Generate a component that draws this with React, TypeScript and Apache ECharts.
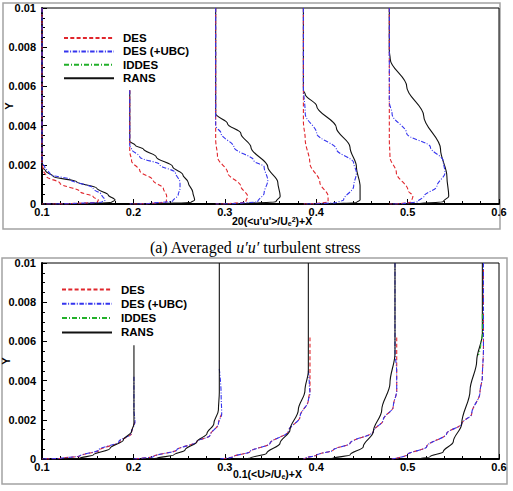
import React, { useEffect, useRef } from "react";
import * as echarts from "echarts";

// Model names, in legend order
const MODELS = ["DES", "DES (+UBC)", "IDDES", "RANS"];

// Streamwise stations X of the five profiles
const STATIONS_X = [0.1, 0.196, 0.29, 0.386, 0.48];

// Axis ticks
const X_MIN = 0.1;
const X_MAX = 0.6;
const X_STEP = 0.1;
const Y_MIN = 0;
const Y_MAX = 0.01;
const Y_STEP = 0.002;

// Panel (a): 20<u'u'>/Ue^2 profiles, [value, Y] per station
const RANS_UU: number[][][] = [
  [[0, 0.01], [0, 0.0019], [0.004, 0.00168], [0.0124, 0.0014], [0.038, 0.00114], [0.06, 0.0008], [0.0725, 0.00046], [0.08, 0.0002], [0.076, 0.00008], [0.04, 0.00001], [0, 0]],
  [[0, 0.0058], [0, 0.0032], [0.006, 0.003], [0.015, 0.0028], [0.029, 0.0024], [0.047, 0.0019], [0.058, 0.0015], [0.064, 0.0011], [0.069, 0.0006], [0.071, 0.0002], [0.067, 0.00008], [0.03, 0.00001], [0, 0]],
  [[0, 0.01], [0, 0.0046], [0.013, 0.0041], [0.0276, 0.0036], [0.0386, 0.0029], [0.057, 0.0019], [0.068, 0.0011], [0.0706, 0.0004], [0.066, 0.00012], [0.03, 0.00001], [0, 0]],
  [[0, 0.01], [0, 0.0058], [0.002, 0.0056], [0.0145, 0.005], [0.036, 0.0039], [0.051, 0.0029], [0.058, 0.0019], [0.062, 0.0009], [0.062, 0.0002], [0.058, 0.00007], [0.03, 0.00001], [0, 0]],
  [[0, 0.01], [0, 0.0078], [0.001, 0.0074], [0.019, 0.006], [0.0376, 0.0045], [0.056, 0.0028], [0.063, 0.0014], [0.065, 0.0004], [0.059, 0.00012], [0.03, 0.00001], [0, 0]],
];
const UBC_UU: number[][][] = [
  [[0, 0.01], [0, 0.0021], [0.003, 0.0019], [0.009, 0.0015], [0.0306, 0.00126], [0.056, 0.0008], [0.0653, 0.00046], [0.069, 0.0002], [0.0653, 0.00009], [0.03, 0.00001], [0, 0]],
  [[0, 0.0058], [0, 0.003], [0.002, 0.0028], [0.011, 0.0024], [0.033, 0.002], [0.05, 0.0016], [0.055, 0.0011], [0.055, 0.0008], [0.053, 0.00046], [0.047, 0.00015], [0.02, 0.00001], [0, 0]],
  [[0, 0.01], [0, 0.004], [0.006, 0.0036], [0.02, 0.0029], [0.042, 0.0022], [0.053, 0.0019], [0.057, 0.0012], [0.053, 0.00055], [0.046, 0.00012], [0.02, 0.00001], [0, 0]],
  [[0, 0.01], [0, 0.006], [0.002, 0.0046], [0.0145, 0.0036], [0.036, 0.0028], [0.055, 0.0021], [0.058, 0.0016], [0.055, 0.0009], [0.044, 0.0002], [0.036, 0.00007], [0.015, 0.00001], [0, 0]],
  [[0, 0.01], [0, 0.0052], [0.003, 0.0046], [0.019, 0.0036], [0.045, 0.0029], [0.059, 0.0022], [0.061, 0.0016], [0.052, 0.0009], [0.038, 0.0004], [0.031, 0.00012], [0.015, 0.00001], [0, 0]],
];
const DES_UU: number[][][] = [
  [[0, 0.01], [0, 0.0021], [0.0013, 0.00173], [0.005, 0.0014], [0.0197, 0.00106], [0.0416, 0.00063], [0.056, 0.00037], [0.0616, 0.0002], [0.0605, 0.00009], [0.03, 0.00001], [0, 0]],
  [[0, 0.0058], [0, 0.0032], [0, 0.0027], [0.002, 0.0022], [0.011, 0.0017], [0.0256, 0.0012], [0.0367, 0.0008], [0.0404, 0.0004], [0.04, 0.0001], [0.02, 0.00001], [0, 0]],
  [[0, 0.01], [0, 0.0033], [0.002, 0.0024], [0.013, 0.0016], [0.0276, 0.0009], [0.035, 0.0004], [0.033, 0.0001], [0.015, 0.00001], [0, 0]],
  [[0, 0.01], [0, 0.0042], [0.002, 0.0033], [0.007, 0.0021], [0.018, 0.0011], [0.027, 0.0004], [0.027, 0.0001], [0.012, 0.00001], [0, 0]],
  [[0, 0.01], [0, 0.0033], [0.0007, 0.0024], [0.0077, 0.0016], [0.0204, 0.0007], [0.0258, 0.0004], [0.024, 0.0001], [0.012, 0.00001], [0, 0]],
];
// IDDES is hidden beneath the other runs in panel (a)
const IDDES_UU: number[][][] = [[], [], [], [], []];

// Panel (b): <U>/Ue profiles, [U/Ue, Y] per station
const RANS_U: number[][][] = [
  [[1.006, 0.0058], [1.006, 0.0018], [0.98, 0.0014], [0.89, 0.00097], [0.744, 0.00054], [0.56, 0.0002], [0.416, 0.00004], [0.25, 0]],
  [[0.98, 0.01], [0.98, 0.0034], [0.97, 0.0025], [0.92, 0.0018], [0.845, 0.0013], [0.735, 0.00088], [0.605, 0.00046], [0.48, 0.0002], [0.3, 0.00004], [0.14, 0]],
  [[1.014, 0.01], [1.014, 0.0045], [0.977, 0.0035], [0.904, 0.0025], [0.813, 0.00148], [0.704, 0.0008], [0.558, 0.00029], [0.376, 0.00004], [0.2, 0]],
  [[1.002, 0.01], [1.002, 0.0054], [0.947, 0.00386], [0.857, 0.0025], [0.765, 0.0014], [0.655, 0.00063], [0.51, 0.0002], [0.327, 0.00004], [0.19, 0]],
  [[1.018, 0.01], [1.018, 0.0064], [0.956, 0.005], [0.883, 0.0035], [0.792, 0.0018], [0.7, 0.00088], [0.59, 0.00037], [0.445, 0.00012], [0.263, 0]],
];
const UBC_U: number[][][] = [
  [[1.006, 0.0042], [1.006, 0.0025], [1.017, 0.0019], [0.975, 0.0013], [0.84, 0.00088], [0.62, 0.00046], [0.41, 0.00015], [0.2, 0.00003], [0, 0]],
  [[0.98, 0.0046], [1.0, 0.0033], [1.006, 0.0023], [0.97, 0.0018], [0.878, 0.0012], [0.732, 0.00088], [0.514, 0.00046], [0.258, 0.00012], [0.04, 0]],
  [[1.014, 0.0045], [1.025, 0.0038], [1.032, 0.0033], [1.014, 0.003], [0.923, 0.00216], [0.795, 0.0014], [0.595, 0.0008], [0.376, 0.00037], [0.193, 0.00012], [0.05, 0]],
  [[1.002, 0.01], [1.002, 0.0055], [1.02, 0.0045], [1.021, 0.0035], [0.983, 0.00267], [0.874, 0.002], [0.765, 0.0014], [0.51, 0.0008], [0.327, 0.00046], [0.145, 0.0002], [0.02, 0.00004], [0, 0]],
  [[1.03, 0.01], [1.03, 0.0056], [1.018, 0.0042], [0.992, 0.0034], [0.901, 0.0023], [0.792, 0.0018], [0.628, 0.0013], [0.409, 0.00063], [0.19, 0.0002], [0.026, 0]],
];
const DES_U: number[][][] = [
  [[1.017, 0.0019], [0.98, 0.0013], [0.853, 0.00088], [0.635, 0.00046], [0.416, 0.00015], [0.2, 0.00003], [0, 0]],
  [[1.006, 0.0023], [0.97, 0.0018], [0.878, 0.0012], [0.732, 0.00088], [0.514, 0.00046], [0.258, 0.00012], [0.04, 0]],
  [[1.032, 0.0062], [1.032, 0.0035], [1.014, 0.003], [0.923, 0.00216], [0.795, 0.0014], [0.595, 0.0008], [0.376, 0.00037], [0.193, 0.00012], [0.05, 0]],
  [[1.021, 0.0062], [1.021, 0.0035], [0.983, 0.00267], [0.874, 0.002], [0.765, 0.0014], [0.51, 0.0008], [0.327, 0.00046], [0.145, 0.0002], [0.02, 0.00004], [0, 0]],
  [[1.03, 0.01], [1.03, 0.0056], [1.018, 0.0042], [0.992, 0.0034], [0.901, 0.0023], [0.792, 0.0018], [0.628, 0.0013], [0.409, 0.00063], [0.19, 0.0002], [0.026, 0]],
];
// IDDES shows only where it leaves the RANS curve at the last station
const IDDES_U: number[][][] = [
  [],
  [],
  [],
  [],
  [[1.018, 0.0074], [1.018, 0.0064], [1.0, 0.0058], [0.975, 0.0053]],
];

// Scale factors applied to the profile values before adding X
const SCALE_UU = 1; // values already hold 20<u'u'>/Ue^2
const SCALE_U = 0.1;

const SANS = "'Liberation Sans', Arial, Helvetica, sans-serif";
const SERIF = "'Liberation Serif', 'Times New Roman', serif";

const LINE_STYLES: Record<string, any> = {
  DES: { color: "#e0262c", width: 1.1, type: [4, 2.3] },
  "DES (+UBC)": { color: "#3535ee", width: 1.1, type: [4.5, 1.6, 1, 1.6] },
  IDDES: { color: "#22b02a", width: 1.1, type: [5, 2, 1, 2] },
  RANS: { color: "#111111", width: 1.1, type: "solid" },
};

const GRIDS = [
  { left: 42, top: 8, width: 457, height: 196 },
  { left: 42, top: 263, width: 457, height: 196 },
];

function profileSeries(
  name: string,
  profiles: number[][][],
  scale: number,
  panel: number,
  z: number
) {
  const ls = LINE_STYLES[name];
  return profiles.map((pts, k) => ({
    type: "line",
    name,
    xAxisIndex: panel,
    yAxisIndex: panel,
    data: pts.map(([v, y]) => [STATIONS_X[k] + scale * v, y]),
    symbol: "none",
    showSymbol: false,
    smooth: 0.35,
    smoothMonotone: "y",
    clip: true,
    silent: true,
    z,
    color: ls.color,
    lineStyle: { color: ls.color, width: ls.width, type: ls.type },
  }));
}

function xAxisFor(panel: number) {
  return {
    type: "value",
    gridIndex: panel,
    min: X_MIN,
    max: X_MAX,
    interval: X_STEP,
    axisLine: { show: true, onZero: false, lineStyle: { color: "#000", width: 2 } },
    axisTick: { show: true, inside: true, length: 5, lineStyle: { color: "#000", width: 1 } },
    minorTick: { show: true, splitNumber: 5, length: 3, lineStyle: { color: "#000", width: 1 } },
    splitLine: { show: false },
    axisLabel: {
      margin: 2,
      color: "#000",
      fontFamily: SANS,
      fontWeight: "bold",
      fontSize: 11,
      formatter: (v: number) => v.toFixed(1),
    },
  };
}

function yAxisFor(panel: number) {
  return {
    type: "value",
    gridIndex: panel,
    min: Y_MIN,
    max: Y_MAX,
    interval: Y_STEP,
    axisLine: { show: true, onZero: false, lineStyle: { color: "#000", width: 2 } },
    axisTick: { show: true, inside: true, length: 5, lineStyle: { color: "#000", width: 1 } },
    minorTick: { show: true, splitNumber: 4, length: 3, lineStyle: { color: "#000", width: 1 } },
    splitLine: { show: false },
    axisLabel: {
      margin: 6,
      color: "#000",
      fontFamily: SANS,
      fontWeight: "bold",
      fontSize: 11,
      formatter: (v: number) => (v === 0 ? "0" : String(+v.toFixed(3))),
    },
  };
}

function legendFor(top: number, left: number, gap: number) {
  return {
    data: MODELS,
    orient: "vertical",
    left,
    top,
    itemWidth: 50,
    itemHeight: 13,
    itemGap: gap,
    selectedMode: false,
    itemStyle: { opacity: 0, borderWidth: 0 },
    textStyle: {
      color: "#000",
      fontFamily: SANS,
      fontWeight: "bold",
      fontSize: 11.5,
      lineHeight: 13,
      padding: [0, 0, 0, 4],
    },
  };
}

const TITLE_RICH = {
  a: { fontFamily: SANS, fontWeight: "bold", fontSize: 10.5, lineHeight: 11, color: "#000" },
  sup: { fontFamily: SANS, fontWeight: "bold", fontSize: 7, lineHeight: 7, verticalAlign: "top", color: "#000" },
  sub: { fontFamily: SANS, fontWeight: "bold", fontSize: 7, lineHeight: 7, verticalAlign: "bottom", color: "#000" },
};

function buildOption() {
  const series: any[] = [
    // panel (a): blue drawn last
    ...profileSeries("RANS", RANS_UU, SCALE_UU, 0, 2),
    ...profileSeries("IDDES", IDDES_UU, SCALE_UU, 0, 3),
    ...profileSeries("DES", DES_UU, SCALE_UU, 0, 4),
    ...profileSeries("DES (+UBC)", UBC_UU, SCALE_UU, 0, 5),
    // panel (b): RANS over the LES-type runs
    ...profileSeries("DES", DES_U, SCALE_U, 1, 2),
    ...profileSeries("DES (+UBC)", UBC_U, SCALE_U, 1, 3),
    ...profileSeries("RANS", RANS_U, SCALE_U, 1, 4),
    ...profileSeries("IDDES", IDDES_U, SCALE_U, 1, 5),
  ];

  return {
    animation: false,
    backgroundColor: "#fff",
    grid: GRIDS.map((g) => ({ ...g, show: true, borderColor: "#000", borderWidth: 1, backgroundColor: "transparent" })),
    xAxis: [xAxisFor(0), xAxisFor(1)],
    yAxis: [yAxisFor(0), yAxisFor(1)],
    legend: [legendFor(26.5, 58, 0.4), legendFor(278, 56, 1.3)],
    series,
    graphic: [
      {
        type: "rect",
        silent: true,
        z: -10,
        shape: { x: 3, y: 3, width: 497, height: 226 },
        style: { fill: "none", stroke: "#a3a3a3", lineWidth: 1.5 },
      },
      {
        type: "rect",
        silent: true,
        z: -10,
        shape: { x: 2, y: 258, width: 505, height: 226 },
        style: { fill: "none", stroke: "#a3a3a3", lineWidth: 1.5 },
      },
      {
        type: "text",
        silent: true,
        x: 9,
        y: 106,
        rotation: Math.PI / 2,
        style: {
          text: "Y",
          fill: "#000",
          font: `bold 11px ${SANS}`,
          textAlign: "center",
          textVerticalAlign: "middle",
        },
      },
      {
        type: "text",
        silent: true,
        x: 6,
        y: 361,
        rotation: Math.PI / 2,
        style: {
          text: "Y",
          fill: "#000",
          font: `bold 11px ${SANS}`,
          textAlign: "center",
          textVerticalAlign: "middle",
        },
      },
      {
        type: "text",
        silent: true,
        x: 232,
        y: 221,
        style: {
          text: "{a|20(<u'u'>/U}{sub|e}{sup|2}{a|)+X}",
          rich: TITLE_RICH,
          textAlign: "left",
          textVerticalAlign: "middle",
        },
      },
      {
        type: "text",
        silent: true,
        x: 233,
        y: 474,
        style: {
          text: "{a|0.1(<U>/U}{sub|e}{a|)+X}",
          rich: TITLE_RICH,
          textAlign: "left",
          textVerticalAlign: "middle",
        },
      },
      {
        type: "text",
        silent: true,
        x: 255,
        y: 247.5,
        style: {
          text: "{n|(a) Averaged }{i|u\u2032u\u2032}{n| turbulent stress}",
          rich: {
            n: { fontFamily: SERIF, fontSize: 16, color: "#111" },
            i: { fontFamily: SERIF, fontSize: 16, fontStyle: "italic", color: "#111" },
          },
          textAlign: "center",
          textVerticalAlign: "middle",
        },
      },
    ],
  };
}

export default function App() {
  const ref = useRef<HTMLDivElement>(null);
  useEffect(() => {
    if (!ref.current) return;
    const chart = echarts.init(ref.current, null, { renderer: "svg" });
    chart.setOption(buildOption() as any);
    return () => chart.dispose();
  }, []);
  return (
    <div
      ref={ref}
      style={{ position: "absolute", left: 0, top: 0, width: 513, height: 491, background: "#fff" }}
    />
  );
}
